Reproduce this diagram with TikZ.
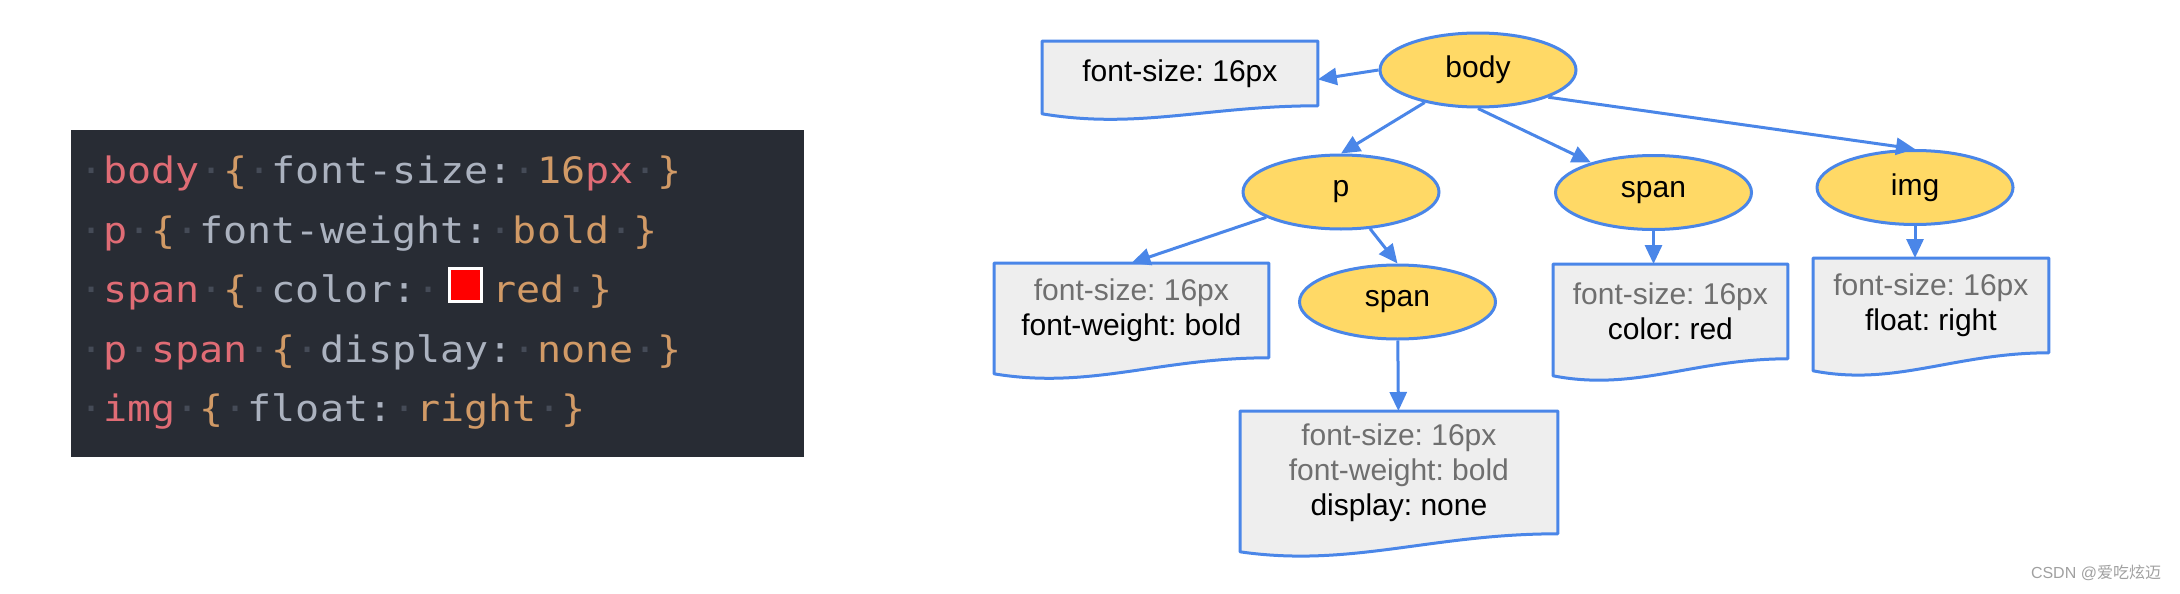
\documentclass[tikz,border=0pt]{standalone}
\usepackage{fontspec}
\setmainfont{Liberation Sans}
\newfontfamily\codefont[FakeStretch=1.1]{DejaVu Sans Mono}
\newfontfamily\cjkfont{Noto Sans CJK SC}
\usetikzlibrary{arrows.meta,calc,backgrounds,shapes.geometric}
\frenchspacing

\definecolor{codebg}{HTML}{282C34}
\definecolor{codesel}{HTML}{E06C75}
\definecolor{codeprop}{HTML}{ABB2BF}
\definecolor{codeval}{HTML}{D19A66}
\definecolor{codedot}{HTML}{454B57}
\definecolor{gblue}{HTML}{4A86E8}
\definecolor{nodefill}{HTML}{FFD966}
\definecolor{boxfill}{HTML}{EEEEEE}
\definecolor{inherit}{HTML}{6F6F6F}
\definecolor{wmgray}{HTML}{A0A0A0}

\newcommand{\ws}{\textcolor{codedot}{·}}
\newcommand{\csel}[1]{\textcolor{codesel}{#1}}
\newcommand{\cprop}[1]{\textcolor{codeprop}{#1}}
\newcommand{\cval}[1]{\textcolor{codeval}{#1}}
\newcommand{\old}[1]{\textcolor{inherit}{#1}}
% document shape round a node: #1 node, #2 rise of the right end
\newcommand{\docbox}[2]{%
  \path[docline] (#1.north west) -- (#1.north east) -- (#1.south east)
    .. controls ($(#1.south west)!0.6!(#1.south east)$)
    and ($(#1.south west)!0.35!(#1.south east)+(0,-#2-8pt)$)
    .. ([yshift=-#2]#1.south west) -- cycle;}

\begin{document}
\begin{tikzpicture}[x=0.5pt,y=-0.5pt,
    elem/.style={ellipse,draw=gblue,fill=nodefill,line width=1.5pt,
      minimum width=98pt,minimum height=37pt,font=\fontsize{15pt}{18pt}\selectfont},
    docnode/.style={anchor=north west,inner sep=0pt,align=center,
      font=\fontsize{15pt}{17.5pt}\selectfont},
    docline/.style={draw=gblue,fill=boxfill,line width=1.5pt,line join=round},
    codeline/.style={anchor=base west,inner sep=0pt,
      font=\codefont\fontsize{18.2pt}{22pt}\selectfont},
    >={Triangle[length=9.5pt,width=8.5pt]},
    link/.style={->,draw=gblue,fill=gblue,line width=1.5pt}]
  \useasboundingbox (0,0) rectangle (2180,594);

  % the stylesheet
  \fill[codebg] (71,130) rectangle (804,457);
  \node[codeline] (css1) at (78.6,183.5)
    {\ws\csel{body}\ws\cval{\{}\ws\cprop{font-size:}\ws\cval{16}\csel{px}\ws\cval{\}}};
  \node[codeline] (css2) at (78.6,243)
    {\ws\csel{p}\ws\cval{\{}\ws\cprop{font-weight:}\ws\cval{bold}\ws\cval{\}}};
  \node[codeline] (css3) at (78.6,302.5)
    {\ws\csel{span}\ws\cval{\{}\ws\cprop{color:}\ws};
  \draw[white,fill=red,line width=1.5pt] (449.8,268.2) rectangle (481.8,301.8);
  \node[codeline] (css3b) at (492,302.5) {\cval{red}\ws\cval{\}}};
  \node[codeline] (css4) at (78.6,362)
    {\ws\csel{p}\ws\csel{span}\ws\cval{\{}\ws\cprop{display:}\ws\cval{none}\ws\cval{\}}};
  \node[codeline] (css5) at (78.6,421.5)
    {\ws\csel{img}\ws\cval{\{}\ws\cprop{float:}\ws\cval{right}\ws\cval{\}}};

  % the tree
  \node[elem] (body) at (1478,70) {body};
  \node[elem] (p) at (1341,192) {p};
  \node[elem] (span) at (1653.5,192.5) {span};
  \node[elem] (img) at (1915,187.5) {img};
  \node[elem] (pspan) at (1397.5,302) {span};

  \node[docnode,minimum width=137.5pt,minimum height=32pt] (fsbody) at (1042,41)
    {font-size: 16px};
  \node[docnode,minimum width=137pt,minimum height=47pt] (fsp) at (994,263)
    {\old{font-size: 16px}\\font-weight: bold};
  \node[docnode,minimum width=117pt,minimum height=47pt] (fsspan) at (1553,264)
    {\old{font-size: 16px}\\color: red};
  \node[docnode,minimum width=117.5pt,minimum height=47pt] (fsimg) at (1813,258)
    {\old{font-size: 16px}\\float: right};
  \node[docnode,minimum width=158.5pt,minimum height=61pt] (fspspan) at (1240,411)
    {\old{font-size: 16px}\\\old{font-weight: bold}\\display: none};

  \begin{scope}[on background layer]
    \docbox{fsbody}{4pt}
    \docbox{fsp}{8pt}
    \docbox{fsspan}{8.5pt}
    \docbox{fsimg}{9pt}
    \docbox{fspspan}{9pt}
  \end{scope}

  \draw[link] (body.west) -- ([yshift=-3pt]fsbody.east);
  \draw[link] (body) -- (p.north);
  \draw[link] (body.south) -- (span);
  \draw[link] (body.south east) -- (img.north);
  \draw[link] (p) -- (fsp.north);
  \draw[link] (p) -- (pspan.north);
  \draw[link] (span) -- (span |- fsspan.north);
  \draw[link] (img) -- (img |- fsimg.north);
  \draw[link] (pspan) -- (fspspan);

  \node[text=wmgray,font=\fontsize{8pt}{10pt}\selectfont] (mark) at (2096,573)
    {CSDN @{\cjkfont 爱吃炫迈}};
\end{tikzpicture}
\end{document}
